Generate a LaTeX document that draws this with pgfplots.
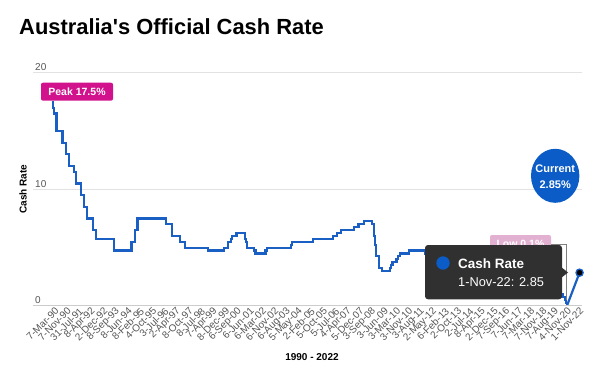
\documentclass[border=0pt]{standalone}
\usepackage{pgfplots}
\pgfplotsset{compat=1.18}
\usepackage{fontspec}
\setmainfont{Liberation Sans}
\newfontfamily\titlefont{Liberation Sans}
\definecolor{rateblue}{HTML}{1A5FC4}
\definecolor{curblue}{HTML}{0B5CC6}
\definecolor{peakmag}{HTML}{D2128C}
\definecolor{lowpink}{HTML}{E2B0D0}
\definecolor{tipdark}{HTML}{303030}
\definecolor{gridgray}{HTML}{E2E2E2}
\definecolor{zerogray}{HTML}{CCCCCC}
\definecolor{labgray}{HTML}{555555}
\begin{document}
\begin{tikzpicture}
\useasboundingbox (0,0) rectangle (600bp,-384bp);
\node[anchor=base west, inner sep=0, font=\titlefont\fontsize{21.9bp}{24bp}\selectfont\bfseries] at (19bp,-34.3bp) {Australia's Official Cash Rate};
\begin{axis}[
  at={(33bp,-305.9bp)}, anchor=south west,
  scale only axis, width=549bp, height=233.2bp,
  xmin=-1.8, xmax=43.2, ymin=0, ymax=20,
  clip=false,
  axis line style={draw=none},
  tick style={draw=none},
  major tick length=0pt,
  ytick={0,10,20},
  ymajorgrids, grid style={gridgray, line width=1bp},
  yticklabel style={anchor=south west, font=\fontsize{10bp}{12bp}\selectfont, text=labgray, inner sep=2bp},
  /pgf/number format/assume math mode=true,
  xtick={0,...,43},
  xticklabels={7-Mar-90,7-Nov-90,31-Jul-91,8-Apr-92,2-Dec-92,8-Sep-93,8-Jun-94,8-Feb-95,4-Oct-95,3-Jul-96,2-Apr-97,8-Oct-97,8-Jul-98,7-Apr-99,8-Dec-99,6-Sep-00,6-Jun-01,6-Mar-02,6-Nov-02,6-Aug-03,5-May-04,2-Feb-05,5-Oct-05,5-Jul-06,4-Apr-07,5-Dec-07,3-Sep-08,3-Jun-09,3-Mar-10,3-Nov-10,3-Aug-11,2-May-12,6-Feb-13,2-Oct-13,2-Jul-14,8-Apr-15,2-Dec-15,7-Sep-16,7-Jun-17,7-Mar-18,7-Nov-18,7-Aug-19,4-Nov-20,1-Nov-22},
  xticklabel style={rotate=45, anchor=east, font=\fontsize{10bp}{12bp}\selectfont, text=labgray, inner sep=1bp, yshift=-4bp},
]
\draw[zerogray, line width=1bp] (axis cs:-1.8,0) -- (axis cs:43.2,0);
\addplot[const plot, rateblue, line width=2.2bp] coordinates {
(-0.27,17.5) (-0.18,17.0) (-0.09,16.5) (0.12,15.0) (0.61,14.0) (0.91,13.0)
(1.15,12.0) (1.56,11.5) (1.71,10.5) (2.13,9.5) (2.39,8.5) (2.64,7.5)
(3.11,6.5) (3.38,5.75) (4.86,4.75) (6.28,5.5) (6.55,6.5) (6.76,7.5)
(9.11,7.0) (9.59,6.0) (10.27,5.5) (10.63,5.0) (12.53,4.75) (13.85,5.0)
(14.20,5.5) (14.43,5.75) (14.54,6.0) (14.88,6.25) (15.56,5.75) (15.67,5.5)
(15.77,5.0) (16.33,4.75) (16.44,4.5) (17.25,4.75) (17.37,5.0) (19.34,5.25)
(19.43,5.5) (21.12,5.75) (22.77,6.0) (23.11,6.25) (23.47,6.5) (24.51,6.75)
(24.88,7.0) (25.34,7.25) (26.00,7.0) (26.13,6.0) (26.24,5.25) (26.33,4.25)
(26.57,3.25) (26.80,3.0) (27.47,3.25) (27.57,3.5) (27.67,3.75) (28.00,4.0)
(28.13,4.25) (28.25,4.5) (29.00,4.75) (30.34,4.5) (30.46,4.25) (31.00,3.75)
(31.13,3.5) (31.56,3.25) (31.78,3.0) (32.38,2.75) (32.77,2.5) (34.77,2.25)
(35.11,2.0) (36.55,1.75) (36.88,1.5) (40.77,1.25) (40.88,1.0) (41.60,0.75)
(41.80,0.5) (41.88,0.25) (42.00,0.1)
};
\addplot[rateblue, line width=2.2bp] coordinates {(42,0.1) (43,2.85)};
\end{axis}
% peak label
\fill[peakmag, rounded corners=2bp] (41bp,-82.7bp) rectangle (113bp,-100.7bp);
\node[text=white, font=\fontsize{10.5bp}{12bp}\selectfont\bfseries, inner sep=0] at (77bp,-91.7bp) {Peak 17.5\%};
% low label (partly hidden)
\fill[lowpink, rounded corners=2bp] (490bp,-235bp) rectangle (551bp,-253bp);
\node[text=white, font=\fontsize{10.5bp}{12bp}\selectfont\bfseries, inner sep=0] at (520.5bp,-244bp) {Low 0.1\%};
\draw[gray, line width=0.8bp] (551bp,-244bp) -- (566.7bp,-244bp) -- (566.7bp,-300bp);
% tooltip
\fill[tipdark, rounded corners=3bp] (425bp,-245bp) rectangle (562bp,-299.3bp);
\fill[tipdark] (561bp,-267bp) -- (568bp,-272.5bp) -- (561bp,-278bp) -- cycle;
\fill[curblue] (443bp,-263bp) circle (6.7bp);
\node[anchor=base west, text=white, inner sep=0, font=\fontsize{13.5bp}{15bp}\selectfont\bfseries] at (458bp,-268.3bp) {Cash Rate};
\node[anchor=base west, text=white, inner sep=0, font=\fontsize{12.8bp}{15bp}\selectfont] at (458bp,-286bp) {1-Nov-22: 2.85};
% current circle
\fill[curblue] (555.2bp,-175.8bp) ellipse (24.2bp and 27bp);
\node[text=white, font=\fontsize{11bp}{13bp}\selectfont\bfseries, inner sep=0, align=center] at (555.2bp,-169bp) {Current};
\node[text=white, font=\fontsize{11bp}{13bp}\selectfont\bfseries, inner sep=0, align=center] at (555.2bp,-185bp) {2.85\%};
% axis titles
\node[rotate=90, font=\fontsize{10bp}{12bp}\selectfont\bfseries] at (23bp,-189.3bp) {Cash Rate};
\node[font=\fontsize{10bp}{12bp}\selectfont\bfseries] at (312bp,-357.5bp) {1990 - 2022};
% final point marker
\begin{axis}[
  at={(33bp,-305.9bp)}, anchor=south west,
  scale only axis, width=549bp, height=233.2bp,
  xmin=-1.8, xmax=43.2, ymin=0, ymax=20, clip=false, hide axis]
\addplot[only marks, mark=*, mark size=3.6bp, mark options={fill=black, draw=rateblue, line width=1.3bp}] coordinates {(43,2.85)};
\end{axis}
\end{tikzpicture}
\end{document}
